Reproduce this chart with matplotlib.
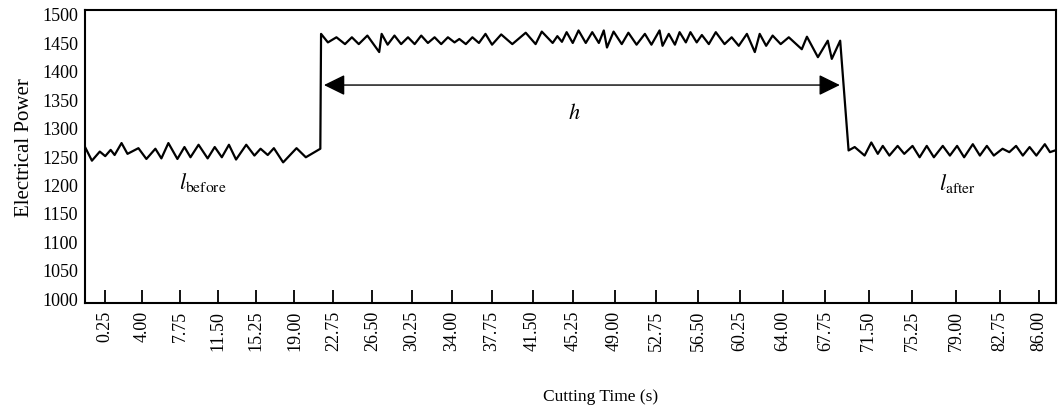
import numpy as np
import matplotlib.pyplot as plt

plt.rcParams['font.family'] = 'Liberation Serif'
plt.rcParams['mathtext.fontset'] = 'stix'

# power readings before the cut (idle spindle)
time_before = [-1.8, -1.1, -0.3, 0.25, 0.8, 1.2, 1.9, 2.5, 3.6, 4.4, 5.3, 5.9, 6.6, 7.5, 8.2,
               8.8, 9.6, 10.5, 11.2, 11.9, 12.6, 13.3, 14.3, 15.1, 15.7, 16.4, 17.0, 17.9, 19.2, 20.1, 21.5]
power_before = [1266, 1242, 1258, 1250, 1261, 1252, 1273, 1254, 1264, 1245, 1263, 1246, 1273, 1245, 1266,
                1248, 1270, 1246, 1266, 1248, 1270, 1244, 1270, 1251, 1263, 1252, 1264, 1239, 1264, 1248, 1263]

# power readings while cutting
time_cut = [21.57, 22.23, 23.05, 23.87, 24.53, 25.19, 26.01, 27.14, 27.37, 27.94, 28.59, 29.22, 29.87,
            30.50, 31.12, 31.75, 32.38, 33.00, 33.63, 34.25, 34.70, 35.31, 35.92, 36.53, 37.14, 37.75,
            38.60, 39.63, 40.87, 41.78, 42.35, 43.35, 43.78, 44.20, 44.63, 45.19, 45.72, 46.38, 46.97,
            47.57, 48.02, 48.31, 48.91, 49.65, 50.25, 50.99, 51.74, 52.33, 53.06, 53.33, 53.89, 54.44,
            54.86, 55.42, 55.83, 56.39, 56.85, 57.47, 58.09, 58.87, 59.50, 60.13, 60.85, 61.55, 61.98,
            62.55, 63.12, 63.83, 64.54, 65.68, 66.13, 67.09, 67.95, 68.30, 69.03]
power_cut = [1465, 1450, 1459, 1447, 1459, 1447, 1462, 1433, 1465, 1446, 1462, 1447, 1459,
             1447, 1462, 1449, 1459, 1447, 1459, 1450, 1456, 1447, 1459, 1449, 1465, 1446,
             1464, 1447, 1467, 1447, 1469, 1449, 1461, 1451, 1468, 1449, 1471, 1449, 1468,
             1449, 1471, 1441, 1469, 1447, 1467, 1446, 1465, 1446, 1471, 1444, 1465, 1446,
             1468, 1450, 1468, 1450, 1463, 1447, 1468, 1447, 1459, 1444, 1465, 1433, 1465,
             1444, 1462, 1447, 1459, 1438, 1460, 1424, 1453, 1421, 1453]

# power readings after the cut
time_after = [69.76, 70.29, 71.15, 71.73, 72.29, 72.72, 73.29, 74.00, 74.57, 75.28, 75.89, 76.50, 77.11,
              77.87, 78.48, 79.09, 79.69, 80.43, 81.03, 81.62, 82.21, 82.95, 83.52, 84.09, 84.66, 85.23,
              85.80, 86.51, 86.94, 87.37]
power_after = [1260, 1266, 1251, 1274, 1254, 1268, 1251, 1268, 1254, 1268, 1248, 1268, 1248,
               1268, 1251, 1268, 1248, 1271, 1251, 1268, 1251, 1263, 1257, 1268, 1251, 1266,
               1251, 1271, 1257, 1260]

tick_times = [0.25, 4.00, 7.75, 11.50, 15.25, 19.00, 22.75, 26.50, 30.25, 34.00, 37.75, 41.50,
              45.25, 49.00, 52.75, 56.50, 60.25, 64.00, 67.75, 71.50, 75.25, 79.00, 82.75, 86.00]
tick_labels = ['%.2f' % t for t in tick_times]
power_ticks = list(range(1000, 1501, 50))

time_s = time_before + time_cut + time_after
power = power_before + power_cut + power_after

# the original time axis is slightly stretched towards the right
k = 0.0012
def fwd(t):
    return t + k * (t - 0.25) ** 2
def inv(y):
    return (-1 + np.sqrt(np.maximum(1 + 4 * k * (y - 0.25), 0))) / (2 * k) + 0.25

fig = plt.figure(figsize=(10.59, 4.10), dpi=100)
ax = fig.add_axes([0.0803, 0.2585, 0.9169, 0.7147])
ax.set_xscale('function', functions=(fwd, inv))

ax.plot(time_s, power, color='black', lw=1.6)

ax.set_xlim(-1.8, 87.45)
ax.set_ylim(991.7, 1507)
ax.set_xticks(tick_times)
ax.set_xticklabels(tick_labels)
ax.set_yticks(power_ticks)
ax.tick_params(axis='x', direction='in', length=9.5, width=1.3, pad=5, labelsize=13, labelrotation=90)
ax.tick_params(axis='y', length=0, pad=5, labelsize=13)
ax.minorticks_off()
for sp in ax.spines.values():
    sp.set_linewidth(1.5)

# height of the power step
ax.annotate('', xy=(21.85, 1375), xytext=(69.0, 1375),
            arrowprops=dict(arrowstyle='<|-|>,head_length=0.65,head_width=0.32', color='black',
                            lw=1.0, shrinkA=0, shrinkB=0, mutation_scale=20))
ax.text(45.3, 1326, '$h$', fontsize=16, ha='center', va='center')
ax.text(10.0, 1206, r'$l_{\mathrm{before}}$', fontsize=16, ha='center', va='center')
ax.text(79.1, 1204, r'$l_{\mathrm{after}}$', fontsize=16, ha='center', va='center')

fig.text(601 / 1059, 1 - 397 / 410, 'Cutting Time (s)', ha='center', va='center', fontsize=12.5)
fig.text(25 / 1059, 0.640, 'Electrical Power', rotation=90, ha='center', va='center', fontsize=15)

fig.savefig('out.png', dpi=100)
